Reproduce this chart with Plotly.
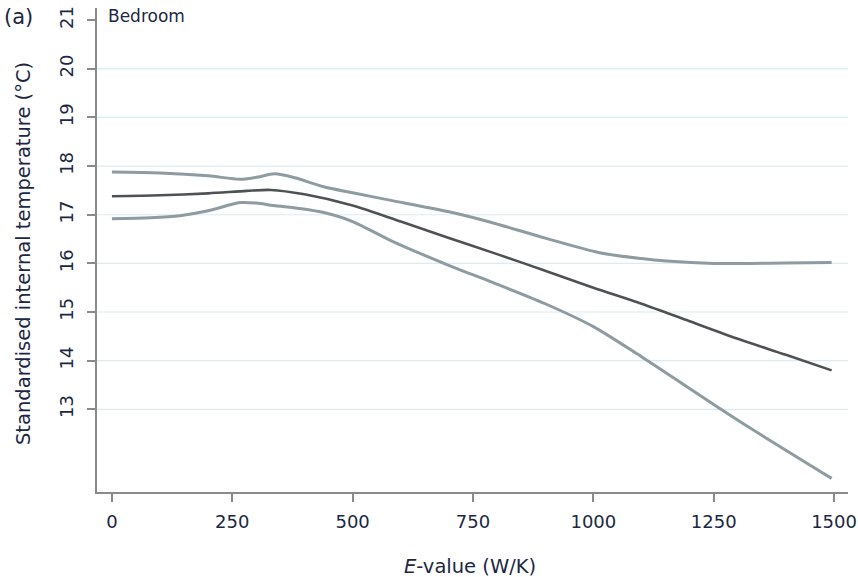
import plotly.graph_objects as go

# Data
e_center = [0, 100, 200, 280, 330, 400, 500, 600, 700, 800, 900, 1000, 1100, 1200, 1300, 1400, 1495]
t_center = [17.38, 17.40, 17.44, 17.49, 17.51, 17.42, 17.19, 16.86, 16.52, 16.19, 15.85, 15.50, 15.17, 14.81, 14.45, 14.12, 13.80]

e_upper = [0, 100, 200, 266, 300, 338, 380, 438, 500, 577, 700, 785, 900, 1013, 1100, 1152, 1250, 1325, 1400, 1495]
t_upper = [17.88, 17.86, 17.80, 17.73, 17.77, 17.84, 17.76, 17.58, 17.45, 17.30, 17.06, 16.85, 16.52, 16.22, 16.10, 16.05, 16.00, 16.00, 16.01, 16.02]

e_lower = [0, 80, 141, 200, 266, 300, 335, 390, 438, 500, 577, 702, 785, 900, 1000, 1100, 1250, 1325, 1495]
t_lower = [16.92, 16.94, 16.98, 17.08, 17.25, 17.24, 17.19, 17.13, 17.05, 16.86, 16.48, 15.95, 15.63, 15.17, 14.70, 14.08, 13.10, 12.62, 11.58]

x_ticks = [0, 250, 500, 750, 1000, 1250, 1500]
y_ticks = [13, 14, 15, 16, 17, 18, 19, 20, 21]
grid_values = [13, 14, 15, 16, 17, 18, 19, 20]

TEXT = "#1c2743"
FONT = "DejaVu Sans, Liberation Sans, Arial, sans-serif"

fig = go.Figure()
fig.add_trace(go.Scatter(x=e_upper, y=t_upper, mode="lines",
                         line=dict(color="#8e9ba1", width=3, shape="spline", smoothing=0.8),
                         showlegend=False, hoverinfo="skip", cliponaxis=False))
fig.add_trace(go.Scatter(x=e_lower, y=t_lower, mode="lines",
                         line=dict(color="#8e9ba1", width=3, shape="spline", smoothing=0.8),
                         showlegend=False, hoverinfo="skip"))
fig.add_trace(go.Scatter(x=e_center, y=t_center, mode="lines",
                         line=dict(color="#4f5254", width=2.6, shape="spline", smoothing=0.8),
                         showlegend=False, hoverinfo="skip"))

for g in grid_values:
    fig.add_shape(type="line", xref="paper", x0=0, x1=1, yref="y", y0=g, y1=g,
                  line=dict(color="#dcebf2", width=1.2), layer="below")

fig.update_layout(
    width=858, height=577,
    margin=dict(l=97, r=10, t=8, b=85),
    paper_bgcolor="white", plot_bgcolor="white",
    font=dict(family=FONT, color=TEXT, size=18),
    xaxis=dict(range=[-31, 1529], tickvals=x_ticks, ticks="outside", ticklen=8,
               tickcolor="#8a8a8a", tickwidth=1.5, showline=True, linecolor="#8a8a8a",
               linewidth=1.5, showgrid=False, zeroline=False, automargin=False,
               tickfont=dict(size=18, color=TEXT), ticklabelstandoff=5),
    yaxis=dict(range=[11.3, 21.25], tickvals=y_ticks, ticks="outside", ticklen=8,
               tickcolor="#8a8a8a", tickwidth=1.5, showline=True, linecolor="#8a8a8a",
               linewidth=1.5, showgrid=False, zeroline=False, tickangle=-90, automargin=False,
               tickfont=dict(size=18, color=TEXT), ticklabelstandoff=7),
    annotations=[
        dict(text="(a)", xref="paper", yref="paper", x=-0.127, y=0.981,
             xanchor="left", yanchor="middle", showarrow=False,
             font=dict(size=21, color=TEXT)),
        dict(text="Bedroom", xref="paper", yref="paper", x=0.012, y=0.983,
             xanchor="left", yanchor="middle", showarrow=False,
             font=dict(size=17, color=TEXT)),
        dict(text="Standardised internal temperature (\u00b0C)", xref="paper", yref="paper",
             x=-0.097, y=0.492, xanchor="center", yanchor="middle", textangle=-90,
             showarrow=False, font=dict(size=19.5, color=TEXT)),
        dict(text="<i>E</i>-value (W/K)", xref="paper", yref="paper",
             x=0.497, y=-0.153, xanchor="center", yanchor="middle",
             showarrow=False, font=dict(size=19.5, color=TEXT)),
    ],
)

fig.write_html("out.html")
